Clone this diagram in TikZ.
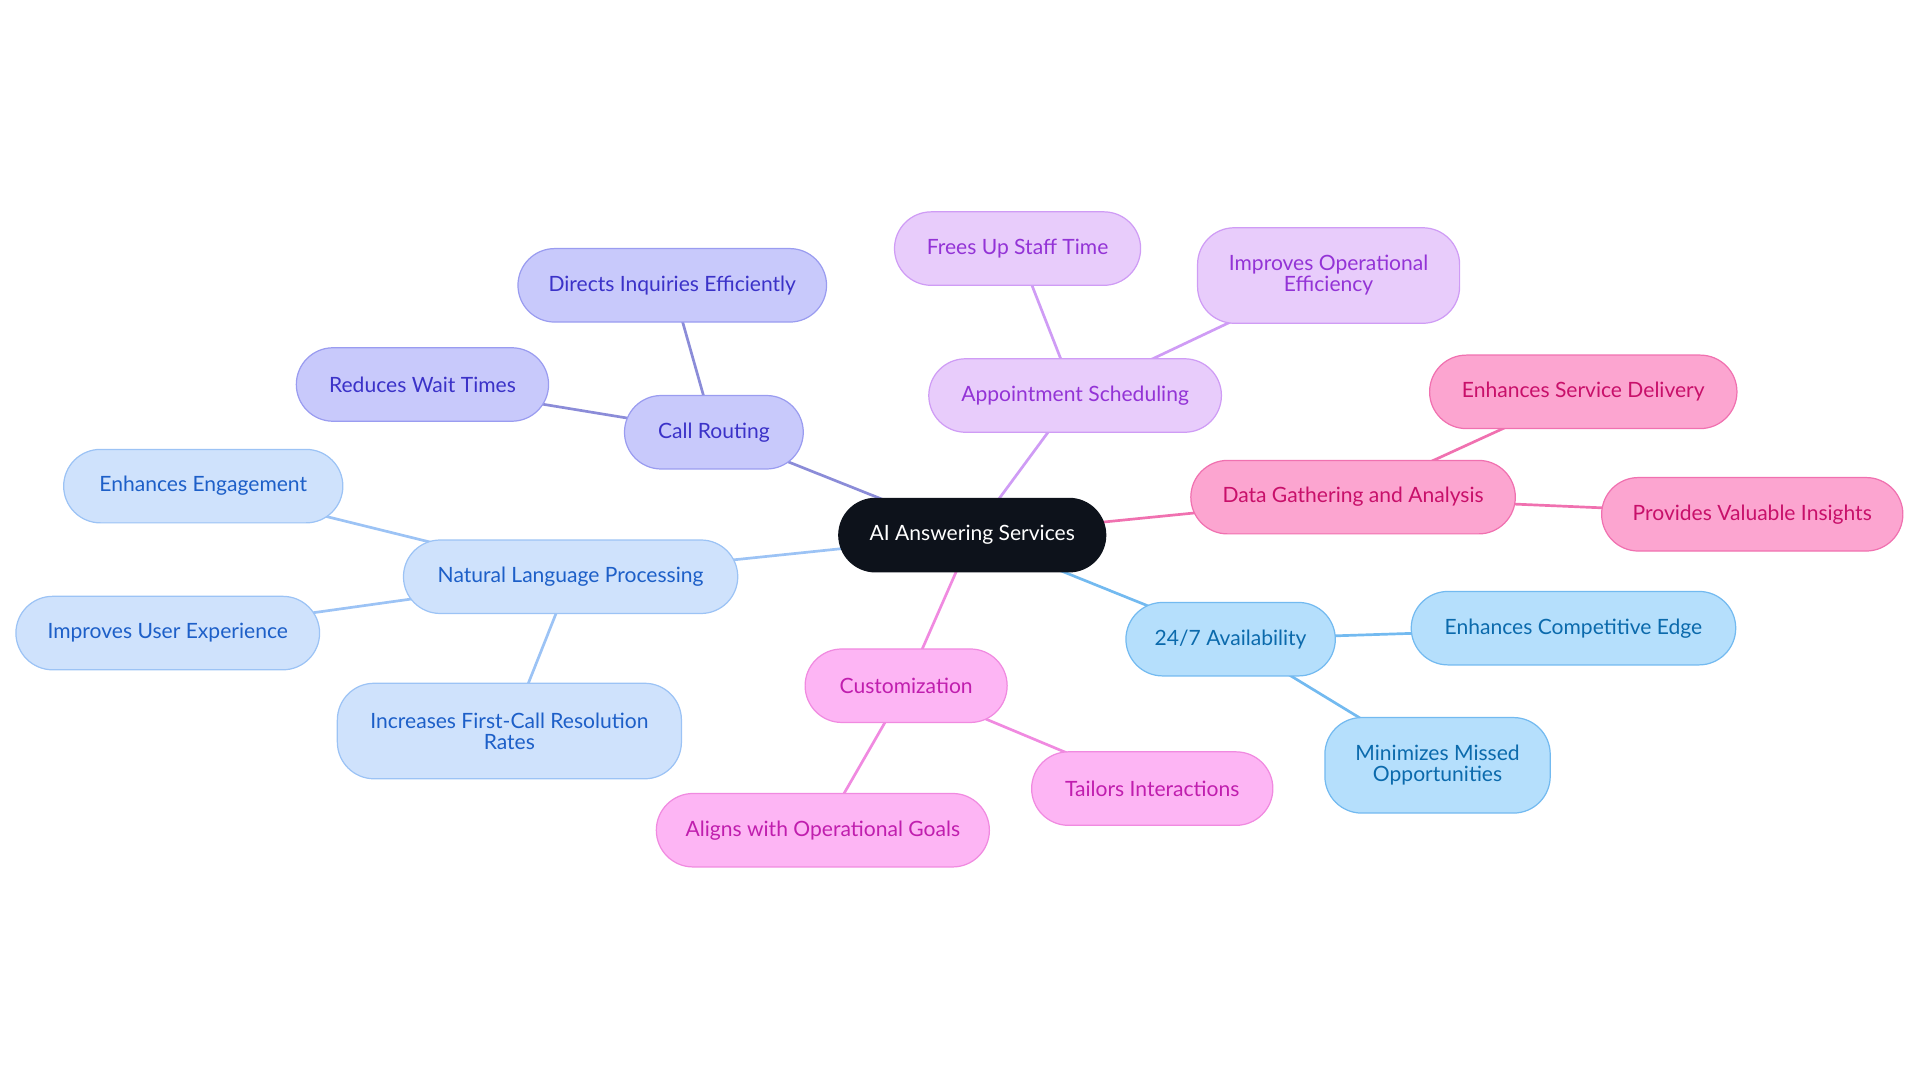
\documentclass[tikz,border=0pt]{standalone}
\usepackage{fontspec}
\setmainfont{Lato}
\usetikzlibrary{backgrounds}
\definecolor{cA}{HTML}{0D121B}
\definecolor{fB}{HTML}{C8C9FB}\definecolor{dB}{HTML}{9A9CF0}\definecolor{tB}{HTML}{3B32C8}
\definecolor{fN}{HTML}{CFE2FC}\definecolor{dN}{HTML}{9CC3F5}\definecolor{tN}{HTML}{1D5FC8}
\definecolor{fP}{HTML}{E8CCFB}\definecolor{dP}{HTML}{CF9CF5}\definecolor{tP}{HTML}{9333D6}
\definecolor{fR}{HTML}{FCA5D0}\definecolor{dR}{HTML}{F071B0}\definecolor{tR}{HTML}{C8106A}
\definecolor{fS}{HTML}{B5DFFC}\definecolor{dS}{HTML}{73BAF0}\definecolor{tS}{HTML}{0B6AAC}
\definecolor{fM}{HTML}{FDB5F4}\definecolor{dM}{HTML}{F08AE0}\definecolor{tM}{HTML}{C01EAE}
\tikzset{
 box/.style={rounded corners=15pt, minimum height=30pt, inner sep=2pt, align=center, font=\fontsize{8.6}{8.6}\selectfont, line width=0.5pt},
 two/.style={minimum height=39pt},
 gB/.style={box, fill=fB, draw=dB, text=tB},
 gN/.style={box, fill=fN, draw=dN, text=tN},
 gP/.style={box, fill=fP, draw=dP, text=tP},
 gR/.style={box, fill=fR, draw=dR, text=tR},
 gS/.style={box, fill=fS, draw=dS, text=tS},
 gM/.style={box, fill=fM, draw=dM, text=tM},
 eB/.style={draw=dB!90!black, line width=1.1pt},
 eN/.style={draw=dN, line width=1.1pt},
 eP/.style={draw=dP, line width=1.1pt},
 eR/.style={draw=dR, line width=1.1pt},
 eS/.style={draw=dS, line width=1.1pt},
 eM/.style={draw=dM, line width=1.1pt},
}
\begin{document}
\begin{tikzpicture}[x=0.5pt,y=-0.5pt]
\useasboundingbox (0,0) rectangle (1568,884);
\node[box, fill=cA, draw=cA, text=white, minimum width=109pt] (c) at (794,437) {AI Answering Services};
\node[gB, minimum width=73pt] (cr) at (583,353) {Call Routing};
\node[gB, minimum width=126pt] (di) at (549,233) {Directs Inquiries Efficiently};
\node[gB, minimum width=103pt] (rw) at (345,314) {Reduces Wait Times};
\node[gN, minimum width=136.5pt] (nl) at (466,471) {Natural Language Processing};
\node[gN, minimum width=114pt] (ee) at (166,397) {Enhances Engagement};
\node[gN, minimum width=124pt] (iu) at (137,517) {Improves User Experience};
\node[gN, two, minimum width=140.5pt] (if) at (416,597) {Increases First-Call Resolution\\Rates};
\node[gP, minimum width=119.5pt] (as) at (878,323) {Appointment Scheduling};
\node[gP, minimum width=100.5pt] (fs) at (831,203) {Frees Up Staff Time};
\node[gP, two, minimum width=107pt] (io) at (1085,225) {Improves Operational\\Efficiency};
\node[gR, minimum width=132.5pt] (dg) at (1105,406) {Data Gathering and Analysis};
\node[gR, minimum width=125.5pt] (es) at (1293,320) {Enhances Service Delivery};
\node[gR, minimum width=123pt] (pv) at (1431,420) {Provides Valuable Insights};
\node[gS, minimum width=85.5pt] (av) at (1005,522) {24/7 Availability};
\node[gS, minimum width=132.5pt] (ec) at (1285,513) {Enhances Competitive Edge};
\node[gS, two, minimum width=92pt] (mm) at (1174,625) {Minimizes Missed\\Opportunities};
\node[gM, minimum width=82.5pt] (cu) at (740,560) {Customization};
\node[gM, minimum width=98.5pt] (ti) at (941,644) {Tailors Interactions};
\node[gM, minimum width=136pt] (al) at (672,678) {Aligns with Operational Goals};
\begin{scope}[on background layer]
\draw[eB] (c.center) -- (cr.center) (cr.center) -- (di.center) (cr.center) -- (rw.center);
\draw[eN] (c.center) -- (nl.center) (nl.center) -- (ee.center) (nl.center) -- (iu.center) (nl.center) -- (if.center);
\draw[eP] (c.center) -- (as.center) (as.center) -- (fs.center) (as.center) -- (io.center);
\draw[eR] (c.center) -- (dg.center) (dg.center) -- (es.center) (dg.center) -- (pv.center);
\draw[eS] (c.center) -- (av.center) (av.center) -- (ec.center) (av.center) -- (mm.center);
\draw[eM] (c.center) -- (cu.center) (cu.center) -- (ti.center) (cu.center) -- (al.center);
\end{scope}
\end{tikzpicture}
\end{document}
